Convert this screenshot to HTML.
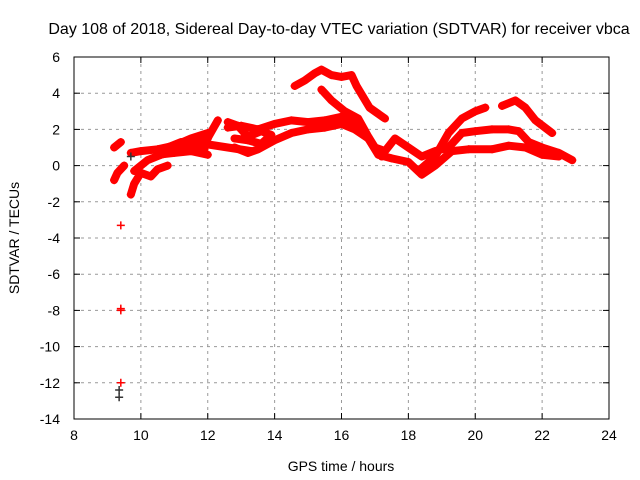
<!DOCTYPE html>
<html><head><meta charset="utf-8"><style>
body{margin:0;background:#fff}
svg{display:block;font-family:"Liberation Sans",sans-serif}
</style></head><body>
<svg id="chart" width="640" height="480">
<rect width="640" height="480" fill="#fff"/>
<text x="339" y="34" font-size="16" text-anchor="middle">Day 108 of 2018, Sidereal Day-to-day VTEC variation (SDTVAR) for receiver vbca</text>
<g id="grid"></g><g id="data"></g><g id="axes"></g>
<text x="341" y="471" font-size="14" text-anchor="middle">GPS time / hours</text>
<text transform="translate(19,238) rotate(-90)" font-size="14" text-anchor="middle">SDTVAR / TECUs</text>
</svg>
<script>
const xTicks=[8,10,12,14,16,18,20,22,24];
const yTicks=[6,4,2,0,-2,-4,-6,-8,-10,-12,-14];
const trackA=[[14.6,4.4],[14.9,4.7],[15.2,5.1],[15.4,5.3],[15.7,5.0],[16.0,4.9],[16.3,5.0],[16.45,4.4],[16.84,3.2],[17.3,2.6]];
const trackB=[[15.4,4.2],[15.7,3.6],[16.1,3.0],[16.5,2.6],[16.8,1.6],[17.0,1.0],[17.2,0.5]];
const trackC=[[12.6,2.1],[13.0,2.2],[13.5,2.0],[14.0,2.3],[14.5,2.5],[15.0,2.4],[15.5,2.5],[16.0,2.7],[16.3,2.5],[16.6,2.0],[17.0,1.0],[17.3,0.8],[17.6,1.5],[18.0,1.0],[18.4,0.5],[18.8,0.8],[19.2,1.0],[19.6,1.8],[20.0,1.9],[20.5,2.0],[21.0,2.0],[21.3,1.9],[21.6,1.3],[22.0,1.0],[22.5,0.7],[22.9,0.3]];
const trackD=[[12.8,1.0],[13.2,0.7],[13.5,0.9],[14.0,1.4],[14.5,1.8],[15.0,2.0],[15.5,2.1],[16.0,2.3],[16.4,2.0],[16.8,1.5],[17.1,0.6],[17.5,0.4],[18.0,0.2],[18.4,-0.5],[18.8,0.0],[19.3,0.8],[19.8,0.9],[20.5,0.9],[21.0,1.1],[21.5,1.0],[22.0,0.6],[22.5,0.5]];
const trackE=[[18.3,-0.3],[18.8,0.5],[19.2,1.8],[19.6,2.6],[20.0,3.0],[20.3,3.2]];
const trackF=[[20.8,3.3],[21.2,3.6],[21.5,3.2],[21.8,2.5],[22.3,1.8]];
const trackG=[[12.6,2.4],[12.9,2.2],[13.2,1.6],[13.6,1.9],[13.9,1.7],[13.6,1.2],[13.2,1.4],[12.8,1.5]];
const trackH=[[9.2,1.0],[9.4,1.3]];
const trackI=[[9.2,-0.8],[9.3,-0.4],[9.5,0.0]];
const trackJ=[[9.7,0.7],[10.0,0.8],[10.5,0.9],[11.0,1.1],[11.5,1.5],[12.0,1.8]];
const trackK=[[10.5,0.6],[11.0,0.7],[11.5,0.8],[12.0,0.6]];
const trackL=[[9.7,-1.6],[9.8,-1.0],[10.0,-0.4],[10.3,-0.6],[10.5,-0.2],[10.8,0.0]];
const trackM=[[9.8,-0.3],[10.2,0.3],[10.6,0.6],[11.0,0.8],[11.5,1.1],[12.0,1.2]];
const trackN=[[12.3,2.5],[11.9,1.2],[13.3,0.8]];
const trackO=[[10.8,1.0],[11.2,1.3],[11.6,1.3],[12.0,1.5]];
const trackP=[[10.9,0.8],[11.4,1.0],[11.9,0.9]];
const outliers=[[9.4,-3.3],[9.4,-7.9],[9.4,-8.0],[9.4,-12.0]];
const darkOutliers=[[9.35,-12.4],[9.35,-12.8],[9.7,0.5]];
const tracks=[trackA,trackB,trackC,trackD,trackE,trackF,trackG,trackH,trackI,trackJ,trackK,trackL,trackM,trackN,trackO,trackP];
const X0=74,X1=609,Y0=57,Y1=419;
const xs=v=>X0+(v-8)/(24-8)*(X1-X0);
const ys=v=>Y0+(6-v)/(6+14)*(Y1-Y0);
const NS='http://www.w3.org/2000/svg';
function mk(t,a,p){const e=document.createElementNS(NS,t);for(const k in a)e.setAttribute(k,a[k]);p.appendChild(e);return e;}
const g=document.getElementById('grid'),ax=document.getElementById('axes'),d=document.getElementById('data');
xTicks.forEach(t=>{const x=xs(t);
 if(t>8&&t<24){const l=mk('line',{x1:x,x2:x,y1:Y0,y2:Y1,stroke:'#999','stroke-dasharray':'3,4'},g);}
 mk('line',{x1:x,x2:x,y1:Y1,y2:Y1-6,stroke:'#000'},ax);mk('line',{x1:x,x2:x,y1:Y0,y2:Y0+6,stroke:'#000'},ax);
 const tx=mk('text',{x:x,y:Y1+21,'font-size':14,'text-anchor':'middle'},ax);tx.textContent=t;
 });
yTicks.forEach(t=>{const y=ys(t);
 if(t<6&&t>-14){const l=mk('line',{x1:X0,x2:X1,y1:y,y2:y,stroke:'#999','stroke-dasharray':'3,4'},g);}
 mk('line',{x1:X0,x2:X0+6,y1:y,y2:y,stroke:'#000'},ax);mk('line',{x1:X1,x2:X1-6,y1:y,y2:y,stroke:'#000'},ax);
 const tx=mk('text',{x:X0-14,y:y+5,'font-size':14,'text-anchor':'end'},ax);tx.textContent=t;
 });
const fr=mk('rect',{x:X0,y:Y0,width:X1-X0,height:Y1-Y0,fill:'none',stroke:'#000'},ax);

function plus(x,y,c){mk('path',{d:`M${x-4},${y}h8M${x},${y-4}v8`,stroke:c,'stroke-width':1.5},d);}
tracks.forEach(tr=>{
 const pl=mk('polyline',{points:tr.map(p=>xs(p[0])+','+ys(p[1])).join(' '),fill:'none',stroke:'#f00','stroke-width':8,'stroke-linejoin':'round','stroke-linecap':'round'},d);
 
 tr.forEach(p=>plus(xs(p[0]),ys(p[1]),'#f00'));});
outliers.forEach(p=>plus(xs(p[0]),ys(p[1]),'#f00'));
darkOutliers.forEach(p=>plus(xs(p[0]),ys(p[1]),'#333'));
</script>
</body></html>
